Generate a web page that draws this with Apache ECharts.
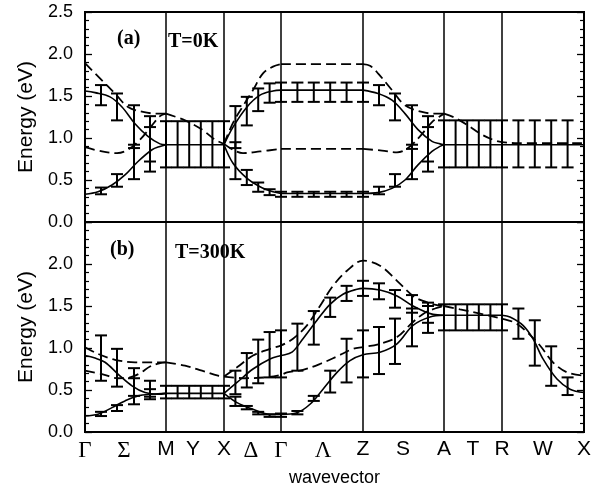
<!DOCTYPE html>
<html><head><meta charset="utf-8">
<script src="https://cdn.jsdelivr.net/npm/echarts@6/dist/echarts.min.js"></script>
<style>html,body{margin:0;padding:0;background:#fff}#c{width:604px;height:501px}</style>
</head><body><div id="c"></div>
<script>
// k-path positions (arbitrary wavevector units) and labels
const kTicks = [0, 39, 81, 108, 139, 166, 196, 238, 278, 318, 359, 388, 417, 458, 499];
const kLabels = ['Γ','Σ','M','Y','X','Δ','Γ','Λ','Z','S','A','T','R','W','X'];
const kLines = [81, 139, 196, 278, 359, 417];
const energyTicks = [0, 0.5, 1.0, 1.5, 2.0, 2.5];

// Panel (a) T=0K
const solidUpA = [[0,1.56],[10,1.54],[25,1.49],[37,1.37],[50,1.17],[63,1.02],[75,0.93],[81,0.92],null,
  [81,0.92],[139,0.92],null,
  [139,0.92],[148,1.13],[162,1.37],[175,1.51],[188,1.56],[196,1.57],null,
  [196,1.57],[278,1.57],null,
  [278,1.57],[293,1.53],[307,1.45],[320,1.29],[333,1.10],[347,0.96],[355,0.93],[359,0.92],null,
  [359,0.92],[499,0.92]];
const solidLoA = [[0,0.33],[13,0.36],[27,0.44],[40,0.56],[53,0.72],[67,0.86],[75,0.90],[81,0.92],null,
  [139,0.92],[148,0.70],[162,0.52],[175,0.42],[188,0.36],[196,0.34],null,
  [196,0.34],[278,0.34],null,
  [278,0.34],[293,0.35],[307,0.40],[320,0.50],[333,0.68],[347,0.84],[355,0.90],[359,0.92]];
const dashUpA = [[0,1.89],[15,1.71],[30,1.53],[43,1.37],[58,1.31],[73,1.29],[81,1.29],null,
  [81,1.29],[100,1.21],[117,1.10],[130,0.98],[139,0.93],null,
  [139,0.93],[148,1.18],[158,1.38],[168,1.57],[178,1.77],[188,1.85],[196,1.88],null,
  [196,1.88],[278,1.88],null,
  [278,1.88],[285,1.86],[293,1.77],[307,1.57],[320,1.39],[337,1.31],[350,1.29],[359,1.29],null,
  [359,1.29],[370,1.24],[383,1.15],[397,1.04],[410,0.97],[417,0.95],[430,0.94],[499,0.94]];
const dashLoA = [[0,0.89],[17,0.84],[32,0.82],[43,0.86],[55,0.98],[67,1.15],[75,1.26],[81,1.29],null,
  [139,0.93],[148,0.86],[158,0.82],[175,0.84],[196,0.87],null,
  [196,0.87],[278,0.87],null,
  [278,0.87],[297,0.85],[312,0.83],[323,0.88],[335,1.02],[347,1.19],[355,1.26],[359,1.29]];
// error bars: [k, high, low]
const errA = [[16,1.63,1.39],[16,0.41,0.33],[32,1.53,1.21],[32,0.57,0.42],
  [49,1.39,0.88],[49,0.92,0.51],[65,1.26,0.72],[65,1.13,0.60],
  [81,1.20,0.65],[92.6,1.20,0.65],[104.2,1.20,0.65],[115.8,1.20,0.65],[127.4,1.20,0.65],[139,1.20,0.65],
  [150.4,1.38,0.88],[150.4,0.95,0.51],[161.8,1.49,1.15],[161.8,0.62,0.44],
  [173.2,1.59,1.32],[173.2,0.47,0.36],[184.6,1.65,1.42],[184.6,0.39,0.32],
  [196,1.66,1.43],[196,0.36,0.30],[212.4,1.66,1.43],[212.4,0.36,0.30],
  [228.8,1.66,1.43],[228.8,0.36,0.30],[245.2,1.66,1.43],[245.2,0.36,0.30],
  [261.6,1.66,1.43],[261.6,0.36,0.30],[278,1.66,1.43],[278,0.36,0.30],
  [294,1.63,1.39],[294,0.42,0.33],[310,1.53,1.21],[310,0.57,0.42],
  [327,1.39,0.87],[327,0.92,0.51],[343,1.26,0.72],[343,1.13,0.60],
  [359,1.21,0.65],[370.6,1.21,0.65],[382.2,1.21,0.65],[393.8,1.21,0.65],[405.4,1.21,0.65],[417,1.21,0.65],
  [433.4,1.21,0.65],[449.8,1.21,0.65],[466.2,1.21,0.65],[482.6,1.21,0.65]];

// Panel (b) T=300K
const solidUpB = [[0,0.91],[10,0.88],[20,0.83],[33,0.69],[47,0.55],[60,0.47],[73,0.45],[81,0.46],null,
  [81,0.46],[139,0.46],null,
  [139,0.46],[152,0.59],[168,0.75],[185,0.87],[196,0.91],[207,0.95],[218,1.11],[232,1.33],[245,1.52],[258,1.64],[272,1.70],[278,1.71],[295,1.69],[312,1.62],[328,1.50],[348,1.40],[359,1.39],null,
  [359,1.39],[417,1.39],null,
  [417,1.39],[425,1.37],[438,1.27],[448,1.11],[458,0.87],[472,0.63],[485,0.51],[499,0.47]];
const solidLoB = [[0,0.19],[13,0.21],[27,0.29],[40,0.37],[53,0.43],[67,0.45],[81,0.46],null,
  [139,0.46],[152,0.35],[168,0.27],[185,0.21],[196,0.21],[212,0.23],[225,0.33],[238,0.51],[252,0.71],[265,0.85],[278,0.92],[295,0.95],[312,1.05],[328,1.27],[345,1.37],[359,1.39]];
const dashUpB = [[0,1.01],[13,0.93],[30,0.86],[50,0.83],[67,0.83],[81,0.83],null,
  [81,0.83],[100,0.79],[117,0.73],[133,0.67],[139,0.66],null,
  [139,0.66],[152,0.77],[168,0.91],[185,0.99],[196,1.03],[208,1.11],[222,1.27],[235,1.50],[248,1.74],[262,1.92],[278,2.04],[295,1.98],[312,1.80],[328,1.62],[338,1.56],[352,1.51],[359,1.50],null,
  [359,1.50],[375,1.46],[395,1.41],[417,1.35],[430,1.30],[442,1.19],[455,1.03],[468,0.83],[482,0.71],[499,0.67]];
const dashLoB = [[0,0.73],[17,0.69],[33,0.64],[45,0.65],[55,0.70],[65,0.78],[75,0.82],[81,0.83],null,
  [139,0.66],[160,0.64],[180,0.65],[196,0.68],[202,0.71],[218,0.74],[235,0.81],[252,0.90],[268,0.99],[278,1.01],[295,1.05],[312,1.13],[328,1.31],[340,1.42],[350,1.47],[359,1.50]];
const errB = [[16,1.15,0.61],[16,0.24,0.19],[32,0.99,0.54],[32,0.32,0.25],
  [49,0.76,0.43],[49,0.64,0.33],[65,0.61,0.42],[65,0.51,0.39],
  [81,0.55,0.40],[92.6,0.55,0.40],[104.2,0.55,0.40],[115.8,0.55,0.40],[127.4,0.55,0.40],[139,0.55,0.40],
  [150.4,0.73,0.45],[150.4,0.42,0.31],[161.8,0.94,0.53],[161.8,0.31,0.27],
  [173.2,1.10,0.58],[173.2,0.24,0.21],[184.6,1.19,0.65],[184.6,0.21,0.18],
  [196,1.21,0.65],[196,0.22,0.18],[212.4,1.29,0.73],[212.4,0.25,0.21],
  [228.8,1.44,1.04],[228.8,0.43,0.37],[245.2,1.60,1.37],[245.2,0.73,0.47],
  [261.6,1.74,1.56],[261.6,1.11,0.59],[278,1.80,1.62],[278,1.21,0.65],
  [294,1.77,1.58],[294,1.25,0.69],[310,1.69,1.48],[310,1.35,0.81],
  [327,1.63,1.42],[327,1.47,1.02],[343,1.54,1.30],[343,1.50,1.18],
  [359,1.52,1.21],[370.6,1.52,1.21],[382.2,1.52,1.21],[393.8,1.52,1.21],[405.4,1.52,1.21],[417,1.52,1.21],
  [433.4,1.47,1.11],[449.8,1.33,0.79],[466.2,1.02,0.55],[482.6,0.65,0.44]];

const chart = echarts.init(document.getElementById('c'), null, {renderer:'canvas'});
function pts(a){ return a.map(p => p === null ? ['-','-'] : p); }
function lineSeries(data, gi, dashed){
  return {type:'line', xAxisIndex:gi, yAxisIndex:gi*2, data:pts(data), symbol:'none', showSymbol:false,
    smooth:0.35, connectNulls:false, silent:true, z:4,
    lineStyle:{color:'#000', width: dashed ? 1.8 : 1.6, type: dashed ? [10,5] : 'solid'}};
}
function errSeries(data, gi){
  return {type:'custom', xAxisIndex:gi, yAxisIndex:gi*2, data:data, encode:{x:0, y:[1,2]}, silent:true, z:3,
    renderItem:function(params, api){
      const x = api.value(0), hi = api.value(1), lo = api.value(2);
      const a = api.coord([x, hi]), b = api.coord([x, lo]);
      const w = 6, st = {stroke:'#000', lineWidth:2};
      return {type:'group', children:[
        {type:'line', shape:{x1:a[0], y1:a[1], x2:b[0], y2:b[1]}, style:st},
        {type:'line', shape:{x1:a[0]-w, y1:a[1], x2:a[0]+w, y2:a[1]}, style:st},
        {type:'line', shape:{x1:b[0]-w, y1:b[1], x2:b[0]+w, y2:b[1]}, style:st}
      ]};
    }};
}
function vlines(gi){
  return {type:'line', xAxisIndex:gi, yAxisIndex:gi*2, data:[], silent:true,
    markLine:{symbol:['none','none'], silent:true, animation:false, label:{show:false},
      lineStyle:{color:'#000', type:'solid', width:1.5}, emphasis:{disabled:true},
      data:kLines.map(v => ({xAxis:v}))}};
}
function yAx(gi, pos, showLabels, hideTop){
  return {gridIndex:gi, type:'value', min:0, max:2.5, interval:0.5, position:pos,
    axisLine:{show:false}, splitLine:{show:false},
    axisTick:{show:true, inside:true, length:7, lineStyle:{color:'#000', width:1.3}},
    minorTick:{show:true, splitNumber:5, length:4, lineStyle:{color:'#000', width:1.2}},
    axisLabel:{show:showLabels, margin:12, color:'#000', fontFamily:'Liberation Sans', fontSize:18,
      formatter: v => (hideTop && v > 2.4) ? '' : v.toFixed(1)},
    name: showLabels ? 'Energy (eV)' : '', nameLocation:'middle', nameRotate:90, nameGap:48,
    nameTextStyle:{fontFamily:'Liberation Sans', fontSize:21, color:'#000'}};
}
const tFont = 'bold 20px "Liberation Serif"';
chart.setOption({
  animation:false,
  backgroundColor:'#fff',
  grid:[
    {left:85, top:12, width:499, height:210, show:true, borderColor:'#000', borderWidth:2, backgroundColor:'transparent'},
    {left:85, top:222, width:499, height:210, show:true, borderColor:'#000', borderWidth:2, backgroundColor:'transparent'}
  ],
  xAxis:[
    {gridIndex:0, type:'value', min:0, max:499, axisLine:{show:false}, axisTick:{show:false}, axisLabel:{show:false}, splitLine:{show:false}},
    {gridIndex:1, type:'value', min:0, max:499, axisLine:{show:false}, axisTick:{show:false}, splitLine:{show:false},
      axisLabel:{show:true, customValues:kTicks, margin:7, color:'#000',
        formatter: function(v){ const i = kTicks.indexOf(v); const s = i >= 0 ? kLabels[i] : '';
          return /[ΓΣΔΛ]/.test(s) ? '{g|' + s + '}' : '{s|' + s + '}'; },
        rich:{g:{fontFamily:'Liberation Serif', fontSize:23, color:'#000'}, s:{fontFamily:'Liberation Sans', fontSize:21, color:'#000'}}},
      name:'wavevector', nameLocation:'middle', nameGap:37,
      nameTextStyle:{fontFamily:'Liberation Sans', fontSize:18, color:'#000'}}
  ],
  yAxis:[ yAx(0,'left',true,false), yAx(0,'right',false,false), yAx(1,'left',true,true), yAx(1,'right',false,false) ],
  graphic:[
    {type:'text', left:117, top:29, style:{text:'(a)', font:tFont, fill:'#000'}},
    {type:'text', left:168, top:32, style:{text:'T=0K', font:tFont, fill:'#000'}},
    {type:'text', left:110, top:240, style:{text:'(b)', font:tFont, fill:'#000'}},
    {type:'text', left:175, top:243, style:{text:'T=300K', font:tFont, fill:'#000'}}
  ],
  series:[
    vlines(0), vlines(1),
    lineSeries(solidUpA,0,false), lineSeries(solidLoA,0,false), lineSeries(dashUpA,0,true), lineSeries(dashLoA,0,true),
    errSeries(errA,0),
    lineSeries(solidUpB,1,false), lineSeries(solidLoB,1,false), lineSeries(dashUpB,1,true), lineSeries(dashLoB,1,true),
    errSeries(errB,1)
  ]
});
</script></body></html>
